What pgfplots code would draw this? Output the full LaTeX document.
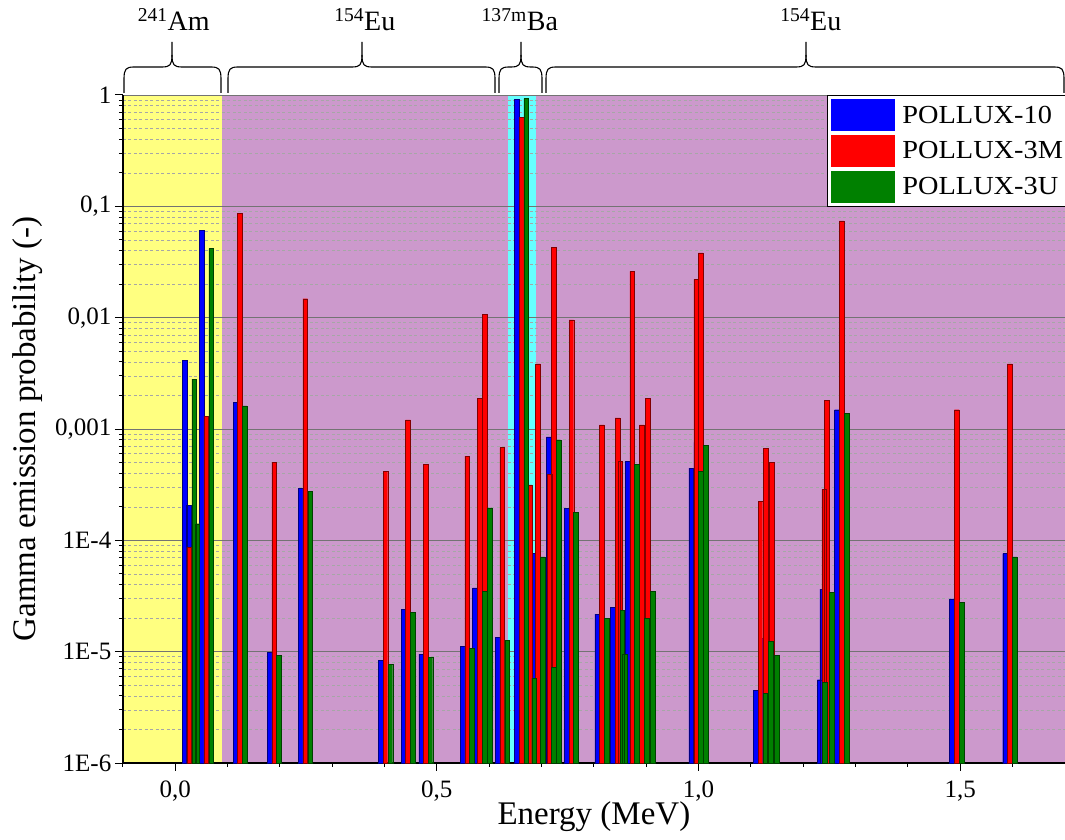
\documentclass[border=0pt]{standalone}
\usepackage{fontspec}
\setmainfont{Liberation Serif}
\newfontfamily\legfont[FakeStretch=1.09]{Liberation Serif}
\usepackage{pgfplots}
\pgfplotsset{compat=1.18}
\definecolor{bgyellow}{RGB}{255,255,128}
\definecolor{bgpurple}{RGB}{204,153,204}
\definecolor{bgcyan}{RGB}{102,255,255}
\definecolor{sblue}{RGB}{0,0,255}
\definecolor{sred}{RGB}{255,0,0}
\definecolor{sgreen}{RGB}{0,128,0}
\newcommand{\bracepath}[3]{%
  \draw[line width=1.1pt] (#1pt,670pt) -- (#1pt,684pt)
    .. controls (#1pt,694pt) and ([xshift=2pt]#1pt,696pt) .. ([xshift=10pt]#1pt,696pt)
    -- ([xshift=-10pt]#2pt,696pt)
    .. controls ([xshift=-2pt]#2pt,696pt) and (#2pt,698pt) .. (#2pt,708pt) -- (#2pt,721pt);
  \draw[line width=1.1pt] (#2pt,708pt)
    .. controls (#2pt,698pt) and ([xshift=2pt]#2pt,696pt) .. ([xshift=10pt]#2pt,696pt)
    -- ([xshift=-10pt]#3pt,696pt)
    .. controls ([xshift=-2pt]#3pt,696pt) and (#3pt,694pt) .. (#3pt,684pt) -- (#3pt,670pt);}
\begin{document}
\begin{tikzpicture}
\begin{axis}[
  set layers,
  scale only axis, width=942.2pt, height=668pt,
  at={(0pt,0pt)}, anchor=south west,
  ymode=log, log origin y=infty,
  xmin=-0.1, xmax=1.7, ymin=1e-6, ymax=1,
  axis x line*=bottom, axis y line*=left,
  axis line style={black, line width=1.6pt},
  xtick={0,0.5,1,1.5},
  xticklabels={{0,0},{0,5},{1,0},{1,5}},
  minor xtick={-0.1,0.1,0.2,0.3,0.4,0.6,0.7,0.8,0.9,1.1,1.2,1.3,1.4,1.6,1.7},
  ytick={1e-6,1e-5,1e-4,1e-3,1e-2,1e-1,1},
  yticklabels={1E-6,1E-5,1E-4,{0,001},{0,01},{0,1},1},
  minor ytick={2e-6,3e-6,4e-6,5e-6,6e-6,7e-6,8e-6,9e-6,
    2e-5,3e-5,4e-5,5e-5,6e-5,7e-5,8e-5,9e-5,
    2e-4,3e-4,4e-4,5e-4,6e-4,7e-4,8e-4,9e-4,
    2e-3,3e-3,4e-3,5e-3,6e-3,7e-3,8e-3,9e-3,
    2e-2,3e-2,4e-2,5e-2,6e-2,7e-2,8e-2,9e-2,
    0.2,0.3,0.4,0.5,0.6,0.7,0.8,0.9},
  ymajorgrids, yminorgrids,
  major grid style={color=black!55, line width=0.9pt},
  minor grid style={color=black!35, line width=0.6pt, dash pattern=on 3pt off 2.5pt},
  tick align=outside, major tick length=8pt, minor tick length=4pt,
  tick style={black, line width=1pt},
  ticklabel style={font=\fontsize{25}{30}\selectfont},
  xticklabel style={yshift=-6pt},
  xlabel={Energy (MeV)},
  xlabel style={at={(axis description cs:0.5,-0.081)}, anchor=center, font=\fontsize{33}{40}\selectfont},
  ylabel={Gamma emission probability (-)},
  ylabel style={at={(axis description cs:-0.1006,0.5)}, anchor=center, font=\fontsize{33}{40}\selectfont},
  clip=false,
  legend cell align=left,
  legend style={at={(axis description cs:0.7474,1)}, anchor=north west, draw=black, line width=0.8pt,
    fill=white, font={\fontsize{26}{31}\legfont}, inner sep=4pt, row sep=3.7pt,
    nodes={inner sep=1pt},
    /tikz/every odd column/.append style={column sep=6pt}},
  legend image code/.code={\fill[#1,draw=none] (0pt,-16pt) rectangle (64pt,16pt);},
]
\begin{pgfonlayer}{axis background}
  \fill[bgyellow] (axis cs:-0.1,1e-6) rectangle (axis cs:0.0903,1);
  \fill[bgpurple] (axis cs:0.0903,1e-6) rectangle (axis cs:1.7,1);
  \fill[bgcyan] (axis cs:0.6356,1e-6) rectangle (axis cs:0.6890,1);
\end{pgfonlayer}

\addplot[ybar, bar width=0.0089, bar shift=0pt, fill=sblue, draw=sblue!50!black, line width=0.4pt] coordinates {
(0.0185,4.14e-3) (0.0261,2.05e-4) (0.0509,0.0606) (0.1150,1.74e-3)
(0.1804,9.9e-6) (0.2394,2.95e-4) (0.3924,8.3e-6) (0.4362,2.4e-5)
(0.4699,9.5e-6) (0.5490,1.12e-5) (0.5728,3.74e-5) (0.5829,1.9e-4)
(0.6160,1.35e-5) (0.6524,0.912) (0.6838,7.6e-5) (0.7053,7.7e-6)
(0.7137,8.5e-4) (0.7476,1.93e-4) (0.8061,2.17e-5) (0.8362,2.5e-5)
(0.8642,5.1e-4) (0.8937,3.7e-5) (0.9861,4.45e-4) (0.9956,7.6e-4)
(1.1090,4.5e-6) (1.1185,1.31e-5) (1.2312,5.6e-6) (1.2362,3.64e-5)
(1.2642,1.49e-3) (1.4838,2.98e-5) (1.5855,7.6e-5)
};
\addlegendentry{\makebox[170pt][l]{POLLUX-10}}
\addplot[ybar, bar width=0.0089, bar shift=0pt, fill=sred, draw=sred!50!black, line width=0.4pt] coordinates {
(0.0267,8.65e-5) (0.0594,1.3e-3) (0.1238,0.0865) (0.1893,5.0e-4)
(0.2486,0.0148) (0.4017,4.14e-4) (0.4448,1.21e-3) (0.4789,4.8e-4)
(0.5581,5.7e-4) (0.5819,1.89e-3) (0.5918,0.01066) (0.6248,6.8e-4)
(0.6617,0.634) (0.6771,3.15e-4) (0.6928,3.85e-3) (0.7152,3.9e-4)
(0.7232,0.0429) (0.7570,9.55e-3) (0.8152,1.09e-3) (0.8450,1.26e-3)
(0.8505,5.1e-4) (0.8731,0.026) (0.8918,1.09e-3) (0.9032,1.89e-3)
(0.9952,0.0221) (1.0042,0.0381) (1.1181,2.25e-4) (1.1280,6.7e-4)
(1.1400,5.0e-4) (1.2400,2.87e-4) (1.2451,1.82e-3) (1.2733,0.0741)
(1.4931,1.49e-3) (1.5943,3.85e-3)
};
\addlegendentry{\makebox[170pt][l]{POLLUX-3M}}
\addplot[ybar, bar width=0.0089, bar shift=0pt, fill=sgreen, draw=sgreen!50!black, line width=0.4pt] coordinates {
(0.0362,2.8e-3) (0.0423,1.41e-4) (0.0690,0.0418) (0.1328,1.61e-3)
(0.1981,9.3e-6) (0.2579,2.75e-4) (0.4112,7.7e-6) (0.4541,2.25e-5)
(0.4876,8.9e-6) (0.5670,1.07e-5) (0.5914,3.5e-5) (0.6010,1.96e-4)
(0.6341,1.27e-5) (0.6708,0.93) (0.6857,5.8e-6) (0.7017,7.1e-5)
(0.7238,7.2e-6) (0.7324,8.0e-4) (0.7657,1.79e-4) (0.8246,2.0e-5)
(0.8541,2.35e-5) (0.8594,9.5e-6) (0.8823,4.8e-4) (0.9010,2.0e-5)
(0.9128,3.5e-5) (1.0046,4.14e-4) (1.0133,7.14e-4) (1.1274,4.2e-6)
(1.1375,1.24e-5) (1.1493,9.3e-6) (1.2413,5.3e-6) (1.2543,3.42e-5)
(1.2827,1.39e-3) (1.5023,2.77e-5) (1.6036,7.1e-5)
};
\addlegendentry{\makebox[170pt][l]{POLLUX-3U}}
\end{axis}
% braces and isotope labels (coordinates in pt from the axis origin)
\bracepath{1.2}{49.2}{98.2}
\bracepath{105.2}{239.2}{372.2}
\bracepath{376.2}{398.2}{419.2}
\bracepath{423.2}{683.2}{941.2}
\begin{scope}[every node/.style={anchor=base, font=\fontsize{28}{34}\selectfont, inner sep=0pt}]
  \node at (51pt,732pt) {\textsuperscript{241}Am};
  \node at (242pt,732pt) {\textsuperscript{154}Eu};
  \node at (397pt,732pt) {\textsuperscript{137m}Ba};
  \node at (688pt,732pt) {\textsuperscript{154}Eu};
\end{scope}
\pgfresetboundingbox
\path (-122.8pt,-76pt) rectangle (942.2pt,763pt);
\end{tikzpicture}
\end{document}
